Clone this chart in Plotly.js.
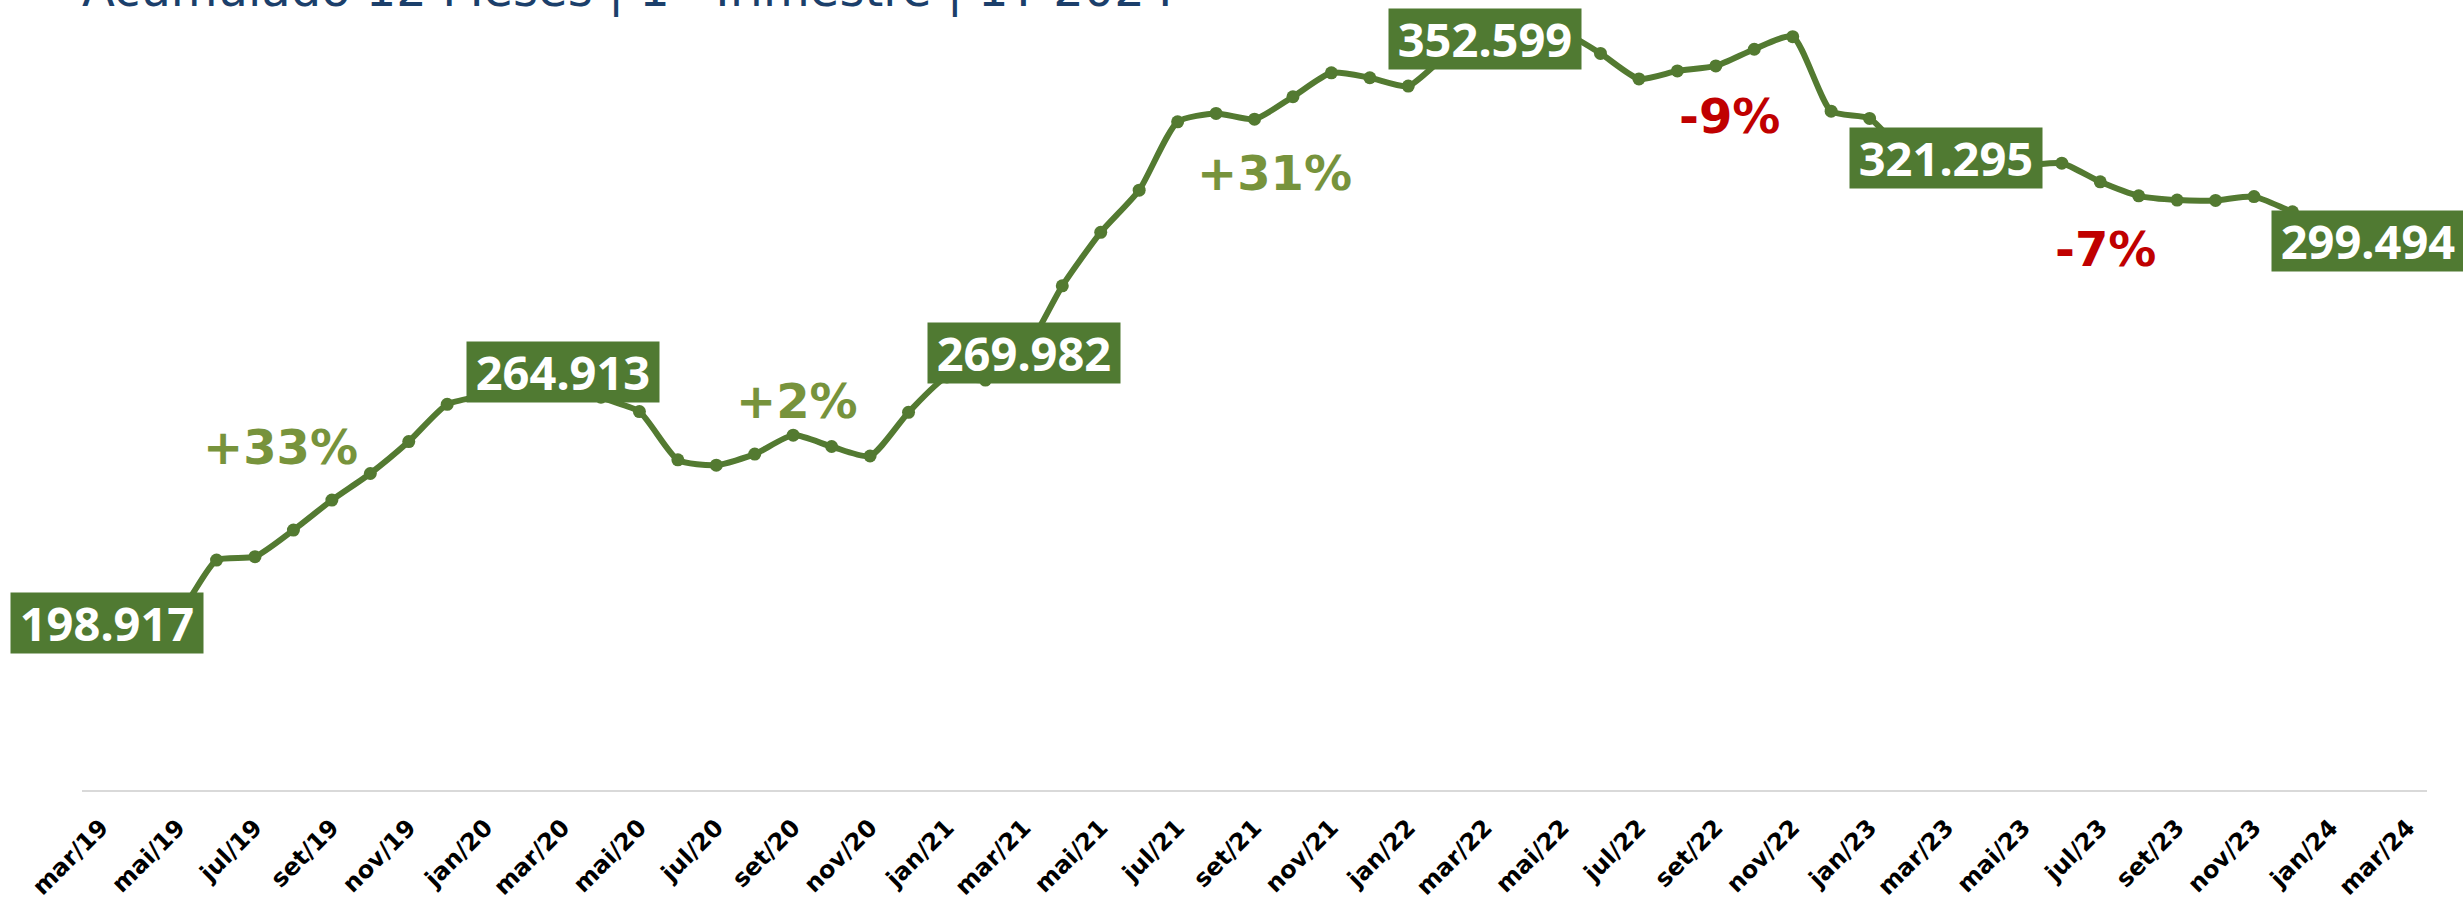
<!DOCTYPE html>
<html>
<head>
<meta charset="utf-8">
<script src="https://cdn.plot.ly/plotly-3.0.1.min.js"></script>
<style>
  html, body { margin: 0; padding: 0; background: #ffffff; }
  #chart { width: 2463px; height: 906px; }
</style>
</head>
<body>
<div id="chart"></div>
<script>
// ---- data ----
const months = [
  'mar/19','abr/19','mai/19','jun/19','jul/19','ago/19','set/19','out/19','nov/19','dez/19',
  'jan/20','fev/20','mar/20','abr/20','mai/20','jun/20','jul/20','ago/20','set/20','out/20','nov/20','dez/20',
  'jan/21','fev/21','mar/21','abr/21','mai/21','jun/21','jul/21','ago/21','set/21','out/21','nov/21','dez/21',
  'jan/22','fev/22','mar/22','abr/22','mai/22','jun/22','jul/22','ago/22','set/22','out/22','nov/22','dez/22',
  'jan/23','fev/23','mar/23','abr/23','mai/23','jun/23','jul/23','ago/23','set/23','out/23','nov/23','dez/23',
  'jan/24','fev/24','mar/24'
];
const values = [
  198917, 200000, 201500, 215400, 216300, 223300, 231200, 238200, 246600, 256400,
  258900, 262800, 264913, 258300, 254500, 241800, 240400, 243300, 248300, 245300, 242800, 254300,
  263600, 262800, 269982, 287600, 301700, 312800, 330800, 333000, 331500, 337400, 343700, 342400,
  340200, 348300, 352599, 353500, 354400, 348800, 342100, 344200, 345500, 349900, 353200, 333600,
  331700, 322000, 321295, 320500, 319300, 319900, 315000, 311300, 310200, 310100, 311100, 307100,
  304000, 301500, 299494
];
const tickMonths = [
  'mar/19','mai/19','jul/19','set/19','nov/19','jan/20','mar/20','mai/20','jul/20','set/20','nov/20',
  'jan/21','mar/21','mai/21','jul/21','set/21','nov/21','jan/22','mar/22','mai/22','jul/22','set/22','nov/22',
  'jan/23','mar/23','mai/23','jul/23','set/23','nov/23','jan/24','mar/24'
];
const highlightMonths = ['mar/19','mar/20','mar/21','mar/22','mar/23','mar/24'];
const changeLabels = ['+33%', '+2%', '+31%', '-9%', '-7%'];
const changeColors = ['#77933C', '#77933C', '#77933C', '#C00000', '#C00000'];
const titleText = 'Acumulado 12 Meses | 1º Trimestre | 1T 2024';

// ---- layout helpers (positions / styles) ----
const changePos = [[0.0847, 0.4397], [0.3049, 0.4987], [0.5085, 0.7910], [0.7026, 0.8647], [0.8631, 0.6930]];
const boxShift = { 'mar/19': 6, 'mar/24': -40 };

function fmt(v) {
  return String(v).replace(/\B(?=(\d{3})+(?!\d))/g, '.');
}

const lineColor = '#537A31';
const boxColor = '#507A32';

const trace = {
  x: months,
  y: values,
  type: 'scatter',
  mode: 'lines+markers',
  line: { color: lineColor, width: 6, shape: 'spline', smoothing: 0.6 },
  marker: { color: lineColor, size: 13 },
  cliponaxis: false,
  hoverinfo: 'skip'
};

const annotations = [];
highlightMonths.forEach(m => {
  const i = months.indexOf(m);
  annotations.push({
    x: m, y: values[i], xref: 'x', yref: 'y',
    text: fmt(values[i]),
    showarrow: false,
    xanchor: 'center', yanchor: 'middle',
    xshift: boxShift[m] || 0,
    bgcolor: boxColor,
    width: 176, height: 44, borderpad: 8,
    font: { family: 'Noto Sans, sans-serif', size: 47, color: '#ffffff', weight: 'bold' }
  });
});
changeLabels.forEach((t, i) => {
  annotations.push({
    x: changePos[i][0], y: changePos[i][1], xref: 'paper', yref: 'paper',
    text: t, showarrow: false, xanchor: 'center', yanchor: 'middle',
    font: { family: 'DejaVu Sans, sans-serif', size: 48, color: changeColors[i], weight: 'bold' }
  });
});
annotations.push({
  x: -0.0009, y: 0.9885, xref: 'paper', yref: 'paper',
  text: titleText, showarrow: false, xanchor: 'left', yanchor: 'bottom',
  font: { family: 'DejaVu Sans, sans-serif', size: 48, color: '#1B3F6B' }
});

const layout = {
  width: 2463, height: 906,
  margin: { l: 82, r: 36, t: 10, b: 116 },
  paper_bgcolor: '#ffffff', plot_bgcolor: '#ffffff',
  showlegend: false,
  xaxis: {
    type: 'category',
    range: [-0.5, 60.5],
    tickmode: 'array', tickvals: tickMonths, ticktext: tickMonths,
    tickangle: -45,
    ticks: '', showgrid: false, zeroline: false,
    showline: true, linecolor: '#D9D9D9', linewidth: 2,
    ticklabelstandoff: 12,
    tickfont: { family: 'DejaVu Sans, sans-serif', size: 24, color: '#000000', weight: 'bold' },
    fixedrange: true
  },
  yaxis: {
    range: [154864, 360235],
    visible: false, showgrid: false, zeroline: false,
    fixedrange: true
  },
  annotations: annotations
};

Plotly.newPlot('chart', [trace], layout, { displayModeBar: false, staticPlot: true });
</script>
</body>
</html>
